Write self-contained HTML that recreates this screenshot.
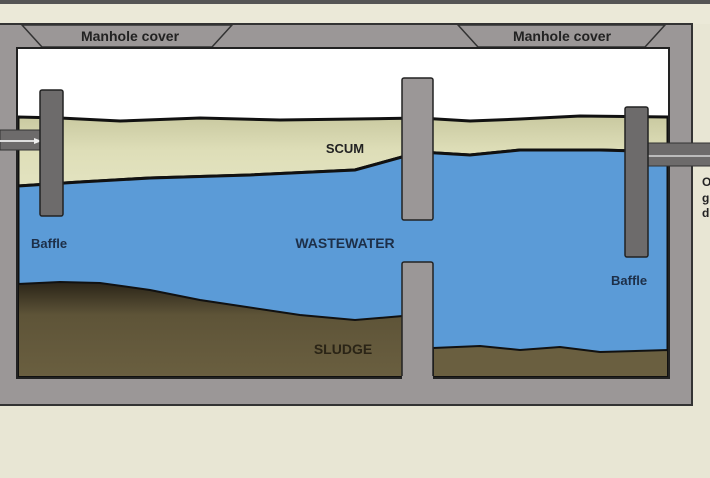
<!DOCTYPE html>
<html><head><style>
body{margin:0;width:710px;height:473px;overflow:hidden;background:#e8e6d4;font-family:"Liberation Sans",sans-serif}
</style></head><body>
<svg width="710" height="473" viewBox="0 0 710 473" xmlns="http://www.w3.org/2000/svg">
<defs>
<linearGradient id="sl" x1="0" y1="0" x2="0" y2="1"><stop offset="0" stop-color="#2a2418"/><stop offset="0.35" stop-color="#5e5438"/><stop offset="1" stop-color="#6a5f40"/></linearGradient>
<linearGradient id="sc" x1="0" y1="0" x2="0" y2="1"><stop offset="0" stop-color="#c9c9a0"/><stop offset="0.5" stop-color="#dedeb8"/><stop offset="1" stop-color="#e3e3c0"/></linearGradient>
</defs>
<rect x="0" y="0" width="710" height="4" fill="#555"/>
<rect x="0" y="4" width="710" height="20" fill="#ebe9d8"/>
<!-- tank -->
<rect x="-5" y="24" width="697" height="381" fill="#9b9797" stroke="#333" stroke-width="2"/>
<rect x="17" y="48" width="652" height="330" fill="#fff" stroke="#222" stroke-width="2"/>
<!-- manhole covers -->
<polygon points="22,25 232,25 212,47 42,47" fill="#9b9797" stroke="#333" stroke-width="1.5"/>
<polygon points="458,25 665,25 645,47 478,47" fill="#9b9797" stroke="#333" stroke-width="1.5"/>
<!-- scum -->
<path d="M18,117 L60,118 L120,121 L200,118 L280,120 L355,119 L420,118 L470,121 L520,119 L580,116 L668,117 L668,152 L600,150 L520,150 L470,155 L420,152 L355,170 L250,175 L150,178 L80,182 L18,186 Z" fill="url(#sc)" stroke="#111" stroke-width="3"/>
<!-- water -->
<path d="M18,186 L80,182 L150,178 L250,175 L355,170 L420,152 L470,155 L520,150 L600,150 L668,152 L668,377 L18,377 Z" fill="#5b9bd7" stroke="#111" stroke-width="3"/>
<!-- sludge -->
<path d="M18,284 L60,282 L100,283 L150,290 L200,300 L240,306 L300,315 L355,320 L403,316 L403,377 L18,377 Z" fill="url(#sl)" stroke="#111" stroke-width="2"/>
<path d="M433,348 L480,346 L520,350 L560,347 L600,352 L668,350 L668,377 L433,377 Z" fill="#6a5f40" stroke="#111" stroke-width="2"/>
<rect x="17" y="48" width="652" height="330" fill="none" stroke="#222" stroke-width="2"/>
<!-- baffles -->
<rect x="0" y="130" width="42" height="20" fill="#6d6b6b" stroke="#333"/>
<line x1="0" y1="141" x2="38" y2="141" stroke="#ddd" stroke-width="2"/>
<polygon points="42,141 34,138 34,144" fill="#eee"/>
<rect x="40" y="90" width="23" height="126" rx="2" fill="#6d6b6b" stroke="#222" stroke-width="1.5"/>
<rect x="402" y="78" width="31" height="142" rx="2" fill="#9b9797" stroke="#222" stroke-width="1.5"/>
<rect x="402" y="262" width="31" height="117" rx="2" fill="#9b9797" stroke="#222" stroke-width="1.5"/>
<rect x="402" y="376" width="31" height="4" fill="#9b9797"/>
<rect x="646" y="143" width="70" height="23" fill="#6d6b6b" stroke="#333"/>
<line x1="640" y1="156" x2="710" y2="156" stroke="#bbb" stroke-width="2"/>
<rect x="625" y="107" width="23" height="150" rx="2" fill="#6d6b6b" stroke="#222" stroke-width="1.5"/>
<!-- labels -->
<g font-weight="bold" font-size="13" fill="#222">
<text x="130" y="41" text-anchor="middle" font-size="14">Manhole cover</text>
<text x="562" y="41" text-anchor="middle" font-size="14">Manhole cover</text>
<text x="345" y="153" text-anchor="middle">SCUM</text>
<text x="31" y="248" fill="#1d2f48">Baffle</text>
<text x="345" y="248" text-anchor="middle" font-size="14" fill="#1d2f48">WASTEWATER</text>
<text x="611" y="285" fill="#1d2f48">Baffle</text>
<text x="343" y="354" text-anchor="middle" fill="#2a2416" font-size="14">SLUDGE</text>
<text x="702" y="186" font-size="12">O</text>
<text x="702" y="202" font-size="12">g</text>
<text x="702" y="217" font-size="12">d</text>
</g>
</svg>
</body></html>
